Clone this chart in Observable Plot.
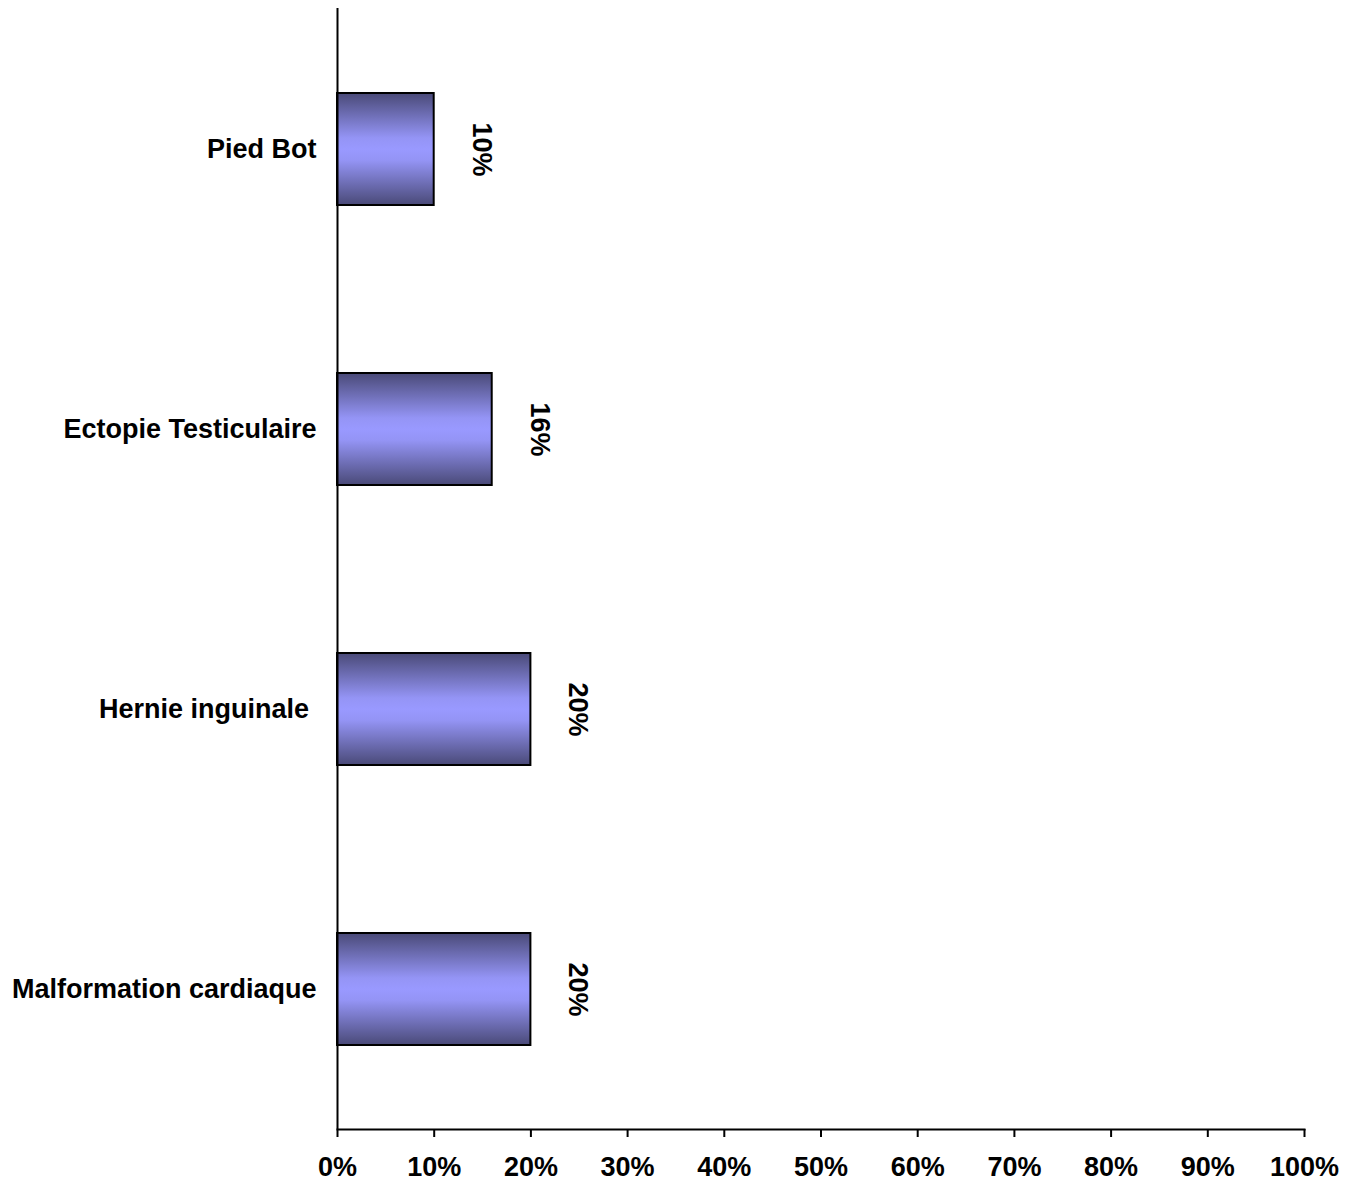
<!DOCTYPE html>
<html><head><meta charset="utf-8">
<script src="https://cdn.jsdelivr.net/npm/d3@7"></script>
<script src="https://cdn.jsdelivr.net/npm/@observablehq/plot@0.6"></script>
<style>body{margin:0;background:#fff}</style>
</head><body><div id="chart"></div><script>
const categories = ["Pied Bot", "Ectopie Testiculaire", "Hernie inguinale\u00a0", "Malformation cardiaque"];
const values = [0.10, 0.16, 0.20, 0.20];
const valueLabels = ["10%", "16%", "20%", "20%"];
const xTicks = [0, 0.1, 0.2, 0.3, 0.4, 0.5, 0.6, 0.7, 0.8, 0.9, 1.0];

const data = categories.map((c, i) => ({category: c, value: values[i], label: valueLabels[i]}));

const chart = Plot.plot({
  width: 1357, height: 1182,
  marginLeft: 337, marginRight: 53, marginTop: 8, marginBottom: 53,
  style: {fontFamily: "Arial, 'Liberation Sans', sans-serif", fontSize: "27px", fontWeight: "bold", color: "#000", background: "#fff"},
  x: {domain: [0, 1]},
  y: {domain: categories, paddingInner: 0.6, paddingOuter: 0.3},
  marks: [
    Plot.barX(data, {x: "value", y: "category", fill: "url(#barGrad)", stroke: "#000", strokeWidth: 2}),
    Plot.text(data, {x: "value", y: "category", text: "label", rotate: 90, dx: 47, fontSize: 27, fontWeight: "bold", fill: "#000"}),
    Plot.ruleX([0], {stroke: "#000", strokeWidth: 2}),
    Plot.frame({anchor: "bottom", stroke: "#000", strokeWidth: 2}),
    Plot.axisX({ticks: xTicks, tickFormat: d3.format(".0%"), tickSize: 8, tickPadding: 19, strokeWidth: 2, label: null}),
    Plot.axisY({tickSize: 0, tickPadding: 21, label: null})
  ]
});

const ns = "http://www.w3.org/2000/svg";
const defs = document.createElementNS(ns, "defs");
const grad = document.createElementNS(ns, "linearGradient");
grad.setAttribute("id", "barGrad");
grad.setAttribute("x1", "0"); grad.setAttribute("y1", "0");
grad.setAttribute("x2", "0"); grad.setAttribute("y2", "1");
[[0, "#4a4a78"], [0.4, "#9494f5"], [0.5, "#9999ff"], [0.6, "#9494f5"], [1, "#4a4a78"]].forEach(([o, c]) => {
  const s = document.createElementNS(ns, "stop");
  s.setAttribute("offset", o);
  s.setAttribute("stop-color", c);
  grad.appendChild(s);
});
defs.appendChild(grad);
const svg = chart.tagName.toLowerCase() === "svg" ? chart : chart.querySelector("svg");
svg.insertBefore(defs, svg.firstChild);
document.getElementById("chart").appendChild(chart);
</script></body></html>
